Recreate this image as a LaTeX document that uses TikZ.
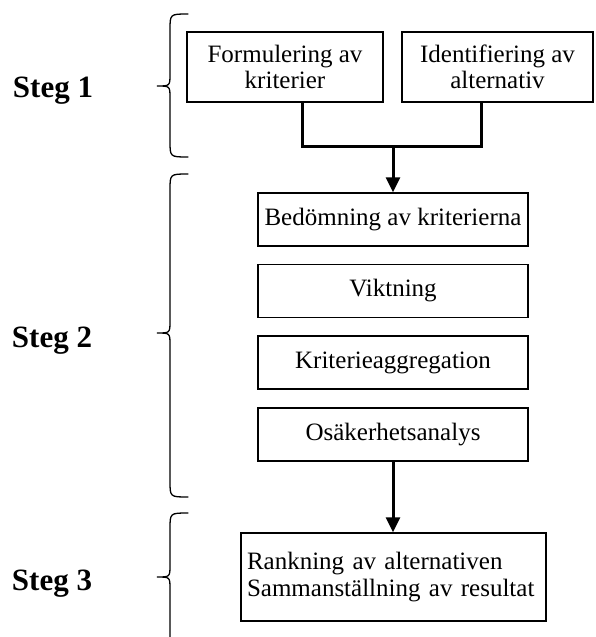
\documentclass[tikz,border=0pt]{standalone}
\usepackage{fontspec}
\setmainfont{Liberation Serif}
\usetikzlibrary{arrows.meta}
\begin{document}
\begin{tikzpicture}[x=1pt,y=-1pt,
  box/.style={draw, line width=1.5pt, minimum width=270pt, minimum height=53pt, inner sep=0pt, font=\fontsize{25}{26}\selectfont, align=center},
  conn/.style={line width=3pt},
  arr/.style={conn, -{Triangle[length=15pt,width=14pt]}},
  lbl/.style={font=\fontsize{31}{33}\selectfont\bfseries, anchor=base},
  curly/.style={line width=1.3pt, line cap=round}]
\fill[white] (0,0) rectangle (595,637);
\useasboundingbox (0,0) rectangle (595,637);

\node[box, minimum width=196pt, minimum height=70pt] (f1) at (285,67) {Formulering av\\kriterier};
\node[box, minimum width=191pt, minimum height=70pt] (f2) at (497.5,67) {Identifiering av\\alternativ};
\node[box] (b1) at (393,219.5) {Bedömning av kriterierna};
\node[box] (b2) at (393,291) {Viktning};
\node[box] (b3) at (393,362.5) {Kriterieaggregation};
\node[box] (b4) at (393,434.5) {Osäkerhetsanalys};
\node[box, font=\fontsize{25}{27}\selectfont, text width=293pt, inner xsep=6pt, minimum height=88pt, align=left] (b5) at (393.5,577) {Rankning av alternativen\\Sammanställning av resultat};

\coordinate (jl) at (302.7,146.7);
\coordinate (jr) at (481.7,146.7);
\coordinate (j) at (393,146.7);
\draw[conn] (f1.south -| jl) -- (jl) -- (jr) -- (f2.south -| jr);
\draw[arr] (j) -- (b1.north);
\draw[arr] (b4.south) -- (b5.north -| b4.south);

\draw[curly] (188,14) .. controls (170,14) .. (170,30) -- (170,74) .. controls (170,86) .. (157,86) .. controls (170,86) .. (170,98) -- (170,141) .. controls (170,157) .. (188,157);
\draw[curly] (188,174) .. controls (170,174) .. (170,190) -- (170,321) .. controls (170,333) .. (157,333) .. controls (170,333) .. (170,345) -- (170,481) .. controls (170,497) .. (188,497);
\draw[curly] (188,513) .. controls (170,513) .. (170,529) -- (170,565) .. controls (170,577) .. (157,577) .. controls (170,577) .. (170,589) -- (170,637);

\node[lbl] (s1) at (53,97) {Steg 1};
\node[lbl] (s2) at (52,347) {Steg 2};
\node[lbl] (s3) at (52,590) {Steg 3};
\end{tikzpicture}
\end{document}
